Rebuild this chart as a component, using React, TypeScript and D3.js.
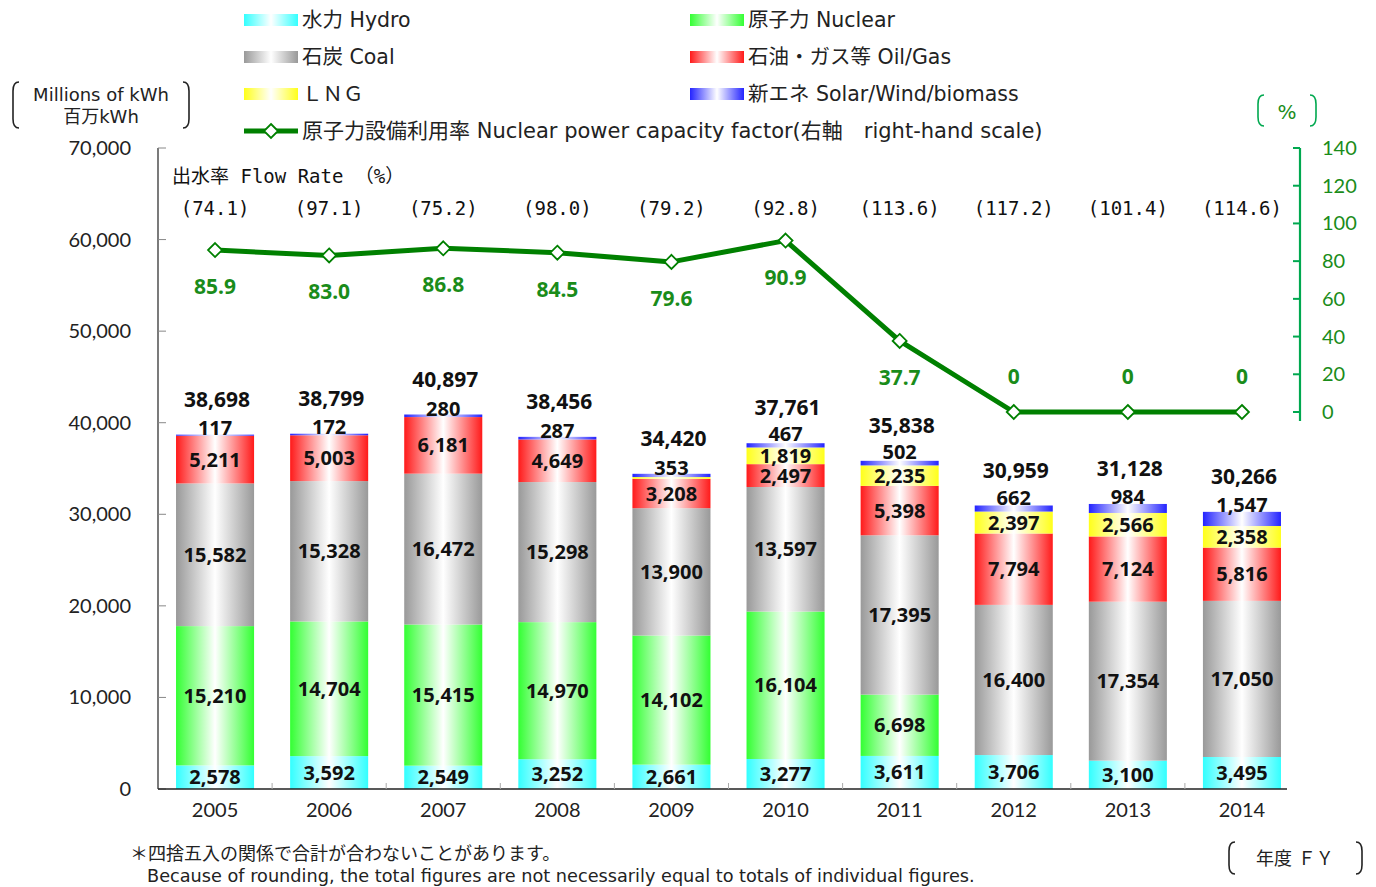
import React from 'react';
import * as d3 from 'd3';

const years = ['2005', '2006', '2007', '2008', '2009', '2010', '2011', '2012', '2013', '2014'];
const hydro = [2578, 3592, 2549, 3252, 2661, 3277, 3611, 3706, 3100, 3495];
const nuclear = [15210, 14704, 15415, 14970, 14102, 16104, 6698, 0, 0, 0];
const coal = [15582, 15328, 16472, 15298, 13900, 13597, 17395, 16400, 17354, 17050];
const oilGas = [5211, 5003, 6181, 4649, 3208, 2497, 5398, 7794, 7124, 5816];
const lng = [0, 0, 0, 0, 196, 1819, 2235, 2397, 2566, 2358];
const newEnergy = [117, 172, 280, 287, 353, 467, 502, 662, 984, 1547];
const totals = [38698, 38799, 40897, 38456, 34420, 37761, 35838, 30959, 31128, 30266];
const flowRate = ['74.1', '97.1', '75.2', '98.0', '79.2', '92.8', '113.6', '117.2', '101.4', '114.6'];
const capacityFactor = [85.9, 83.0, 86.8, 84.5, 79.6, 90.9, 37.7, 0, 0, 0];
const leftTicks = [0, 10000, 20000, 30000, 40000, 50000, 60000, 70000];
const rightTicks = [0, 20, 40, 60, 80, 100, 120, 140];

const seriesDefs = [
  { key: 'hydro', name: '水力 Hydro', values: hydro, color: '#33ffff' },
  { key: 'nuclear', name: '原子力 Nuclear', values: nuclear, color: '#33ff33' },
  { key: 'coal', name: '石炭 Coal', values: coal, color: '#999999' },
  { key: 'oil', name: '石油・ガス等 Oil/Gas', values: oilGas, color: '#ff1a1a' },
  { key: 'lng', name: 'ＬＮＧ', values: lng, color: '#ffff1a' },
  { key: 'new', name: '新エネ Solar/Wind/biomass', values: newEnergy, color: '#2424ff' },
];

const legendOrder = ['hydro', 'nuclear', 'coal', 'oil', 'lng', 'new'];

const TXT = "'DejaVu Sans', 'Noto Sans CJK JP', sans-serif";
const LATIN = "Lato, 'Noto Sans CJK JP', sans-serif";
const NUM = "'Noto Sans', 'Open Sans', sans-serif";
const MONO = "'DejaVu Sans Mono', 'Noto Sans CJK JP', monospace";
const GREEN_LINE = '#008000';
const GREEN_TEXT = '#1a8c1a';
const GREEN_AXIS = '#00a84f';

function Bracket({ x1, x2, y1, y2, color }: { x1: number; x2: number; y1: number; y2: number; color: string }) {
  const r = 6;
  return (
    <g fill="none" stroke={color} strokeWidth={1.6}>
      <path d={`M${x1 + r},${y1} Q${x1},${y1} ${x1},${y1 + r * 1.5} L${x1},${y2 - r * 1.5} Q${x1},${y2} ${x1 + r},${y2}`} />
      <path d={`M${x2 - r},${y1} Q${x2},${y1} ${x2},${y1 + r * 1.5} L${x2},${y2 - r * 1.5} Q${x2},${y2} ${x2 - r},${y2}`} />
    </g>
  );
}

export default function App() {
  const W = 1376;
  const H = 887;
  const left = 158;
  const top = 148;
  const bottom = 789;
  const x = d3.scaleBand<string>().domain(years).range([left, 1299]).paddingInner(0.316).paddingOuter(0.158);
  const y = d3.scaleLinear().domain([0, 70000]).range([bottom, top]);
  const y2 = d3.scaleLinear().domain([0, 140]).range([412, top]);

  const table = years.map((yr, i) => {
    const row: any = { year: yr };
    seriesDefs.forEach((s) => (row[s.key] = s.values[i]));
    return row;
  });
  const stack = d3.stack<any>().keys(seriesDefs.map((s) => s.key))(table);

  const line = d3
    .line<number>()
    .x((_, i) => (x(years[i]) as number) + x.bandwidth() / 2)
    .y((v) => y2(v));

  const fmt = d3.format(',');
  const bw = x.bandwidth();

  return (
    <svg width={W} height={H} style={{ position: 'absolute', left: 0, top: 0, background: '#fff' }}>
      <defs>
        {seriesDefs.map((s) => (
          <linearGradient key={s.key} id={`g-${s.key}`} x1="0" x2="1" y1="0" y2="0">
            <stop offset="0" stopColor={s.color} />
            <stop offset="0.5" stopColor="#ffffff" />
            <stop offset="1" stopColor={s.color} />
          </linearGradient>
        ))}
      </defs>

      {/* Legend */}
      {legendOrder.map((k, i) => {
        const s = seriesDefs.find((d) => d.key === k)!;
        const col = i % 2;
        const row = Math.floor(i / 2);
        const lx = col === 0 ? 244 : 690;
        const ly = 20 + row * 37;
        return (
          <g key={k}>
            <rect x={lx} y={ly - 6} width={54} height={12} fill={`url(#g-${k})`} />
            <text x={lx + 58} y={ly + 7} fontSize={20.5} fontFamily={TXT} fill="#222">
              {s.name}
            </text>
          </g>
        );
      })}
      <g>
        <line x1={244} x2={298} y1={131} y2={131} stroke={GREEN_LINE} strokeWidth={5} />
        <path d={`M271,124 L278,131 L271,138 L264,131 Z`} fill="#fff" stroke={GREEN_LINE} strokeWidth={1.8} />
        <text x={302} y={138} fontSize={21} fontFamily={TXT} fill="#222">
          原子力設備利用率  Nuclear power capacity factor(右軸　right-hand scale)
        </text>
      </g>

      {/* Left unit label */}
      <Bracket x1={13} x2={189} y1={82} y2={128} color="#222" />
      <text x={101} y={101} textAnchor="middle" fontSize={18} fontFamily={TXT} fill="#222">
        Millions of kWh
      </text>
      <text x={101} y={123} textAnchor="middle" fontSize={18} fontFamily={TXT} fill="#222">
        百万kWh
      </text>

      {/* Right unit label */}
      <Bracket x1={1258} x2={1316} y1={95} y2={126} color={GREEN_AXIS} />
      <text x={1287} y={119} textAnchor="middle" fontSize={20} fontFamily={TXT} fill={GREEN_TEXT}>
        %
      </text>

      {/* Bars */}
      {stack.map((layer, li) => {
        const s = seriesDefs[li];
        return (
          <g key={s.key}>
            {layer.map((d, i) => {
              const h = y(d[0]) - y(d[1]);
              if (h <= 0) return null;
              return (
                <rect
                  key={i}
                  x={x(years[i])}
                  y={y(d[1])}
                  width={bw}
                  height={h}
                  fill={`url(#g-${s.key})`}
                />
              );
            })}
          </g>
        );
      })}

      {/* Left axis */}
      <line x1={left} x2={left} y1={top} y2={bottom} stroke="#222" strokeWidth={1.2} />
      {leftTicks.map((t) => (
        <g key={t}>
          <line x1={left} x2={left + 8} y1={y(t)} y2={y(t)} stroke="#888" strokeWidth={1} />
          <text x={131} y={y(t) + 7} textAnchor="end" fontSize={20} fontFamily={LATIN} fill="#222">
            {fmt(t)}
          </text>
        </g>
      ))}

      {/* X axis */}
      <line x1={left} x2={1287} y1={bottom} y2={bottom} stroke="#222" strokeWidth={1.6} />
      {years.map((yr, i) => (
        <g key={yr}>
          {i > 0 && (
            <line
              x1={(x(yr) as number) - (x.step() - bw) / 2}
              x2={(x(yr) as number) - (x.step() - bw) / 2}
              y1={bottom}
              y2={bottom - 6}
              stroke="#aaa"
              strokeWidth={1}
            />
          )}
          <text
            x={(x(yr) as number) + bw / 2}
            y={817}
            textAnchor="middle"
            fontSize={20}
            fontFamily={LATIN}
            fill="#222"
          >
            {yr}
          </text>
        </g>
      ))}

      {/* Right axis */}
      <line x1={1300} x2={1300} y1={top} y2={421} stroke={GREEN_AXIS} strokeWidth={2.2} />
      {rightTicks.map((t) => (
        <g key={t}>
          <line x1={1293} x2={1300} y1={y2(t)} y2={y2(t)} stroke={GREEN_AXIS} strokeWidth={2} />
          <text x={1322} y={y2(t) + 7} fontSize={20} fontFamily={LATIN} fill={GREEN_TEXT}>
            {t}
          </text>
        </g>
      ))}

      {/* Segment labels */}
      {stack.map((layer, li) => {
        const s = seriesDefs[li];
        return (
          <g key={`lab-${s.key}`}>
            {layer.map((d, i) => {
              const v = s.values[i];
              if (v === 0) return null;
              if (s.key === 'lng' && v < 500) return null;
              let cy = (y(d[0]) + y(d[1])) / 2;
              if (s.key === 'new') cy = Math.min(cy, y(d[1]) + 4) - (lng[i] >= 500 ? 11 : 7);
              return (
                <text
                  key={i}
                  x={(x(years[i]) as number) + bw / 2}
                  y={cy + 7}
                  textAnchor="middle"
                  fontSize={20}
                  fontWeight="bold"
                  fontFamily={NUM}
                  fill="#111"
                >
                  {fmt(v)}
                </text>
              );
            })}
          </g>
        );
      })}

      {/* Totals */}
      {totals.map((t, i) => (
        <text
          key={i}
          x={(x(years[i]) as number) + bw / 2 + 2}
          y={y(d3.sum(seriesDefs, (s) => s.values[i])) - 28}
          textAnchor="middle"
          fontSize={21}
          fontWeight="bold"
          fontFamily={NUM}
          fill="#111"
        >
          {fmt(t)}
        </text>
      ))}

      {/* Flow rate */}
      <text x={172} y={183} fontSize={19} fontFamily={MONO} fill="#111">
        出水率 Flow Rate （%）
      </text>
      {flowRate.map((f, i) => (
        <text
          key={i}
          x={(x(years[i]) as number) + bw / 2}
          y={215}
          textAnchor="middle"
          fontSize={19}
          fontFamily={MONO}
          fill="#111"
        >
          ({f})
        </text>
      ))}

      {/* Capacity factor line */}
      <path d={line(capacityFactor) || ''} fill="none" stroke={GREEN_LINE} strokeWidth={5} strokeLinejoin="round" />
      {capacityFactor.map((v, i) => {
        const cx = (x(years[i]) as number) + bw / 2;
        const cy = y2(v);
        return (
          <g key={i}>
            <path
              d={`M${cx},${cy - 7} L${cx + 7},${cy} L${cx},${cy + 7} L${cx - 7},${cy} Z`}
              fill="#fff"
              stroke={GREEN_LINE}
              strokeWidth={1.8}
            />
            <text
              x={cx}
              y={v === 0 ? cy - 28 : cy + 44}
              textAnchor="middle"
              fontSize={21}
              fontWeight="bold"
              fontFamily={NUM}
              fill={GREEN_TEXT}
            >
              {v === 0 ? '0' : v.toFixed(1)}
            </text>
          </g>
        );
      })}

      {/* Notes */}
      <text x={130} y={860} fontSize={18} fontFamily={TXT} fill="#222">
        ＊四捨五入の関係で合計が合わないことがあります。
      </text>
      <text x={147} y={882} fontSize={17.7} fontFamily={TXT} fill="#222">
        Because of rounding, the total figures are not necessarily equal to totals of individual figures.
      </text>
      <Bracket x1={1229} x2={1362} y1={842} y2={874} color="#222" />
      <text x={1256} y={865} fontSize={18} fontFamily={TXT} fill="#222">
        年度 ＦＹ
      </text>
    </svg>
  );
}
